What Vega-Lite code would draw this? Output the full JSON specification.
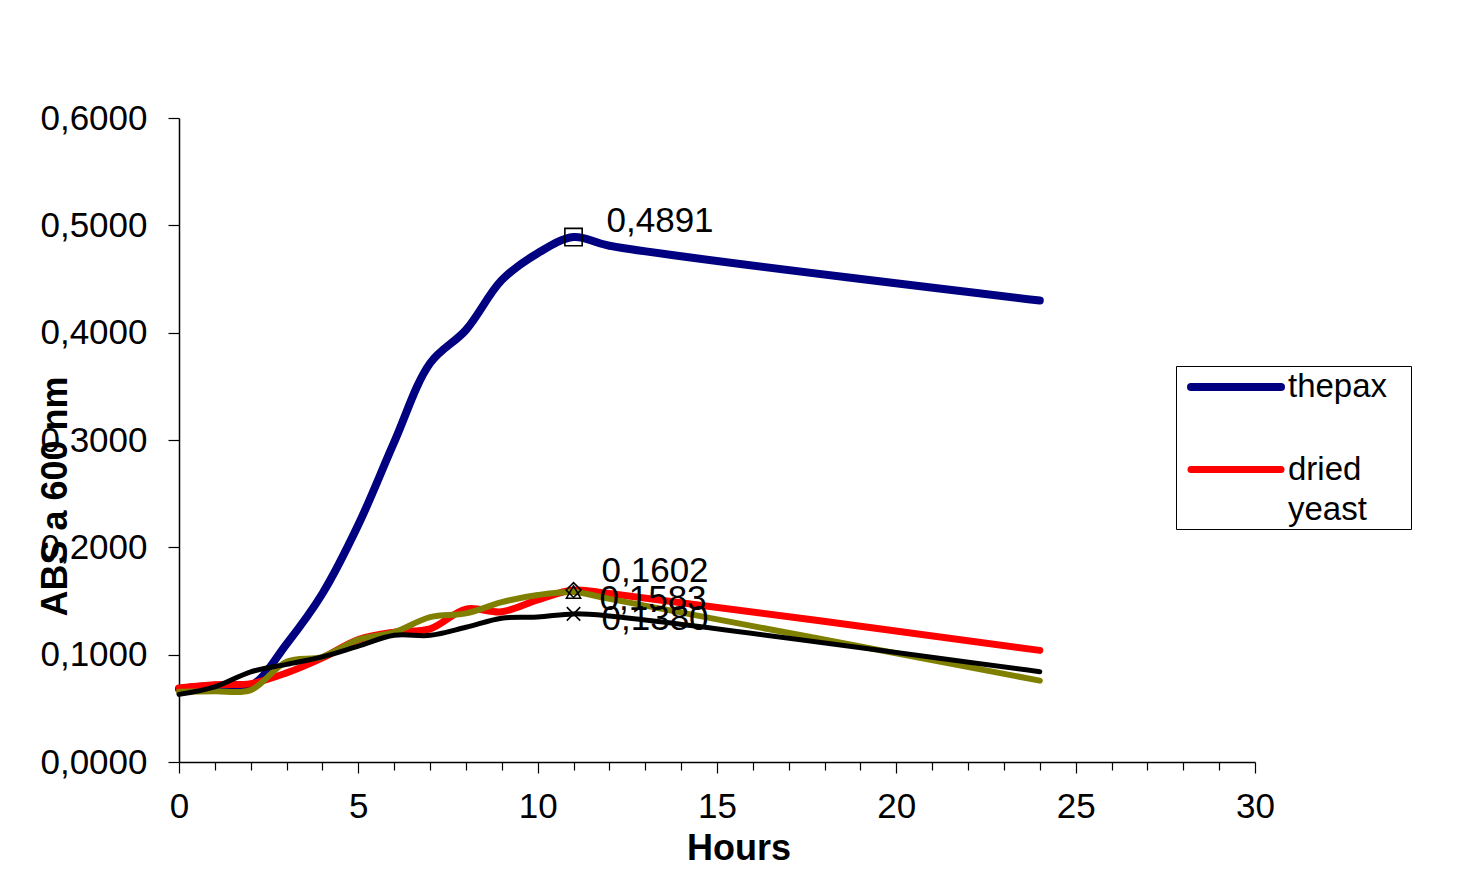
{
  "$schema": "https://vega.github.io/schema/vega-lite/v6.json",
  "width": 1076,
  "height": 644,
  "autosize": {"type": "none"},
  "padding": {"left": 179, "top": 118, "right": 226, "bottom": 123},
  "background": "white",
  "config": {
    "view": {"stroke": null},
    "font": "Liberation Sans",
    "locale": {"number": {"decimal": ",", "thousands": ".", "grouping": [3], "currency": ["", " €"]}}
  },
  "datasets": {
    "curves": [
      {"series": "thepax", "hours": 0, "abs": 0.068},
      {"series": "thepax", "hours": 1, "abs": 0.071},
      {"series": "thepax", "hours": 2, "abs": 0.071},
      {"series": "thepax", "hours": 3, "abs": 0.110},
      {"series": "thepax", "hours": 4, "abs": 0.157},
      {"series": "thepax", "hours": 5, "abs": 0.221},
      {"series": "thepax", "hours": 6, "abs": 0.298},
      {"series": "thepax", "hours": 7, "abs": 0.3715},
      {"series": "thepax", "hours": 8, "abs": 0.4025},
      {"series": "thepax", "hours": 9, "abs": 0.449},
      {"series": "thepax", "hours": 10, "abs": 0.474},
      {"series": "thepax", "hours": 11, "abs": 0.4891},
      {"series": "thepax", "hours": 12, "abs": 0.481},
      {"series": "thepax", "hours": 24, "abs": 0.430},
      {"series": "dried yeast", "hours": 0, "abs": 0.069},
      {"series": "dried yeast", "hours": 1, "abs": 0.072},
      {"series": "dried yeast", "hours": 2, "abs": 0.073},
      {"series": "dried yeast", "hours": 3, "abs": 0.083},
      {"series": "dried yeast", "hours": 4, "abs": 0.097},
      {"series": "dried yeast", "hours": 5, "abs": 0.114},
      {"series": "dried yeast", "hours": 6, "abs": 0.121},
      {"series": "dried yeast", "hours": 7, "abs": 0.124},
      {"series": "dried yeast", "hours": 8, "abs": 0.1425},
      {"series": "dried yeast", "hours": 9, "abs": 0.140},
      {"series": "dried yeast", "hours": 10, "abs": 0.151},
      {"series": "dried yeast", "hours": 11, "abs": 0.1602},
      {"series": "dried yeast", "hours": 12, "abs": 0.157},
      {"series": "dried yeast", "hours": 24, "abs": 0.104},
      {"series": "Series3", "hours": 0, "abs": 0.0655},
      {"series": "Series3", "hours": 1, "abs": 0.066},
      {"series": "Series3", "hours": 2, "abs": 0.067},
      {"series": "Series3", "hours": 3, "abs": 0.0935},
      {"series": "Series3", "hours": 4, "abs": 0.098},
      {"series": "Series3", "hours": 5, "abs": 0.114},
      {"series": "Series3", "hours": 6, "abs": 0.121},
      {"series": "Series3", "hours": 7, "abs": 0.135},
      {"series": "Series3", "hours": 8, "abs": 0.1385},
      {"series": "Series3", "hours": 9, "abs": 0.149},
      {"series": "Series3", "hours": 10, "abs": 0.1556},
      {"series": "Series3", "hours": 11, "abs": 0.1583},
      {"series": "Series3", "hours": 12, "abs": 0.152},
      {"series": "Series3", "hours": 24, "abs": 0.0758},
      {"series": "Series4", "hours": 0, "abs": 0.063},
      {"series": "Series4", "hours": 1, "abs": 0.070},
      {"series": "Series4", "hours": 2, "abs": 0.084},
      {"series": "Series4", "hours": 3, "abs": 0.091},
      {"series": "Series4", "hours": 4, "abs": 0.098},
      {"series": "Series4", "hours": 5, "abs": 0.108},
      {"series": "Series4", "hours": 6, "abs": 0.118},
      {"series": "Series4", "hours": 7, "abs": 0.118},
      {"series": "Series4", "hours": 8, "abs": 0.1255},
      {"series": "Series4", "hours": 9, "abs": 0.134},
      {"series": "Series4", "hours": 10, "abs": 0.135},
      {"series": "Series4", "hours": 11, "abs": 0.138},
      {"series": "Series4", "hours": 12, "abs": 0.136},
      {"series": "Series4", "hours": 24, "abs": 0.0841}
    ],
    "peaks": [
      {"curve": "thepax", "hours": 11, "abs": 0.4891},
      {"curve": "dried yeast", "hours": 11, "abs": 0.1602},
      {"curve": "Series3", "hours": 11, "abs": 0.1583},
      {"curve": "Series4", "hours": 11, "abs": 0.138}
    ]
  },
  "encoding": {
    "x": {
      "field": "hours", "type": "quantitative",
      "scale": {"domain": [0, 30], "nice": false, "zero": false},
      "axis": {
        "values": [0,1,2,3,4,5,6,7,8,9,10,11,12,13,14,15,16,17,18,19,20,21,22,23,24,25,26,27,28,29,30],
        "labelExpr": "datum.value % 5 === 0 ? datum.label : ''",
        "tickSize": {"condition": {"test": "datum.value % 5 === 0", "value": 11}, "value": 8},
        "labelPadding": 16,
        "labelFontSize": 35, "labelFont": "Liberation Sans", "labelColor": "black",
        "labelBaseline": "top", "labelFlush": false, "labelOverlap": false,
        "domainColor": "black", "domainWidth": 1.5, "tickColor": "black", "tickWidth": 1.2,
        "grid": false,
        "title": "Hours", "titleFontSize": 36, "titleFont": "Liberation Sans", "titleFontWeight": "bold",
        "titleColor": "black", "titleX": 559.5, "titleY": 97, "titleBaseline": "alphabetic", "titleAlign": "center"
      }
    },
    "y": {
      "field": "abs", "type": "quantitative",
      "scale": {"domain": [0, 0.6], "nice": false},
      "axis": {
        "values": [0, 0.1, 0.2, 0.3, 0.4, 0.5, 0.6],
        "format": ".4f",
        "tickSize": 11, "labelPadding": 21,
        "labelFontSize": 35, "labelFont": "Liberation Sans", "labelColor": "black",
        "labelFlush": false, "labelOverlap": false,
        "domainColor": "black", "domainWidth": 1.5, "tickColor": "black", "tickWidth": 1.2,
        "grid": false,
        "title": "ABS a 600 nm", "titleFontSize": 36, "titleFont": "Liberation Sans", "titleFontWeight": "bold",
        "titleColor": "black", "titleAngle": -90, "titleX": -113, "titleY": 378, "titleBaseline": "alphabetic", "titleAlign": "center"
      }
    }
  },
  "layer": [
    {
      "data": {"name": "curves"},
      "mark": {"type": "line", "interpolate": "catmull-rom", "strokeCap": "round", "strokeJoin": "round"},
      "encoding": {
        "color": {
          "field": "series", "type": "nominal",
          "scale": {"domain": ["thepax", "dried yeast", "Series3", "Series4"], "range": ["#000080", "#ff0000", "#808000", "#000000"]},
          "legend": {
            "values": ["thepax", "dried yeast"],
            "orient": "none", "legendX": 997, "legendY": 248,
            "title": " ", "titleOrient": "right", "titleFontSize": 6, "titlePadding": 22,
            "symbolType": "M-3,0L3,0", "symbolSize": 900, "symbolOffset": 39,
            "labelFontSize": 33, "labelFont": "Liberation Sans", "labelColor": "black", "labelLimit": 400,
            "labelExpr": "datum.value == 'dried yeast' ? ['dried', 'yeast'] : datum.label",
            "labelOffset": 33,
            "strokeColor": "black", "fillColor": "white", "padding": 2, "rowPadding": 47,
            "encode": {
              "symbols": {"update": {"strokeCap": {"value": "round"}, "fill": {"value": "transparent"}}},
              "labels": {"update": {"lineHeight": {"value": 40}}}
            }
          }
        },
        "strokeWidth": {
          "field": "series", "type": "nominal",
          "scale": {"domain": ["thepax", "dried yeast", "Series3", "Series4"], "range": [8, 5, 5, 4]},
          "legend": {
            "values": ["thepax", "dried yeast"],
            "orient": "none", "legendX": 997, "legendY": 248,
            "title": " ", "titleOrient": "right", "titleFontSize": 6, "titlePadding": 22,
            "symbolType": "M-3,0L3,0", "symbolSize": 900, "symbolOffset": 39,
            "labelFontSize": 33, "labelFont": "Liberation Sans", "labelColor": "black", "labelLimit": 400,
            "labelExpr": "datum.value == 'dried yeast' ? ['dried', 'yeast'] : datum.label",
            "labelOffset": 33,
            "strokeColor": "black", "fillColor": "white", "padding": 2, "rowPadding": 47,
            "encode": {
              "symbols": {"update": {"strokeCap": {"value": "round"}, "fill": {"value": "transparent"}}},
              "labels": {"update": {"lineHeight": {"value": 40}}}
            }
          }
        },
        "order": {"field": "hours", "type": "quantitative"}
      }
    },
    {
      "data": {"name": "peaks"},
      "transform": [{"filter": "datum.curve == 'thepax'"}],
      "layer": [
        {"mark": {"type": "point", "shape": "square", "size": 300, "filled": false, "stroke": "black", "strokeWidth": 1.6, "opacity": 1}},
        {"mark": {"type": "text", "align": "left", "baseline": "alphabetic", "dx": 33, "dy": -5, "fontSize": 35, "font": "Liberation Sans", "color": "black"},
         "encoding": {"text": {"field": "abs", "type": "quantitative", "format": ".4f"}}}
      ]
    },
    {
      "data": {"name": "peaks"},
      "transform": [{"filter": "datum.curve == 'dried yeast'"}],
      "layer": [
        {"mark": {"type": "point", "shape": "diamond", "size": 220, "filled": false, "stroke": "black", "strokeWidth": 1.6, "opacity": 1}},
        {"mark": {"type": "text", "align": "left", "baseline": "alphabetic", "dx": 28, "dy": -8, "fontSize": 35, "font": "Liberation Sans", "color": "black"},
         "encoding": {"text": {"field": "abs", "type": "quantitative", "format": ".4f"}}}
      ]
    },
    {
      "data": {"name": "peaks"},
      "transform": [{"filter": "datum.curve == 'Series3'"}],
      "layer": [
        {"mark": {"type": "point", "shape": "triangle-up", "size": 200, "filled": false, "stroke": "black", "strokeWidth": 1.6, "opacity": 1}},
        {"mark": {"type": "text", "align": "left", "baseline": "alphabetic", "dx": 26, "dy": 18, "fontSize": 35, "font": "Liberation Sans", "color": "black"},
         "encoding": {"text": {"field": "abs", "type": "quantitative", "format": ".4f"}}}
      ]
    },
    {
      "data": {"name": "peaks"},
      "transform": [{"filter": "datum.curve == 'Series4'"}],
      "layer": [
        {"mark": {"type": "point", "shape": "M-1,-1L1,1M-1,1L1,-1", "size": 180, "filled": false, "stroke": "black", "strokeWidth": 1.6, "opacity": 1}},
        {"mark": {"type": "text", "align": "left", "baseline": "alphabetic", "dx": 28, "dy": 16, "fontSize": 35, "font": "Liberation Sans", "color": "black"},
         "encoding": {"text": {"field": "abs", "type": "quantitative", "format": ".4f"}}}
      ]
    }
  ]
}
